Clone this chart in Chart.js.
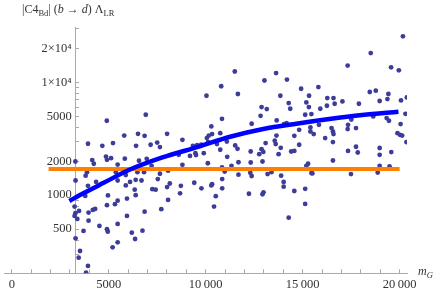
<!DOCTYPE html>
<html>
<head>
<meta charset="utf-8">
<script src="https://cdn.jsdelivr.net/npm/chart.js@4/dist/chart.umd.min.js"></script>
<style>
html, body { margin: 0; padding: 0; background: #fff; }
#wrap { position: relative; width: 436px; height: 292px; }
#ylab { position: absolute; left: 22px; top: 2px; font: 12px/14px "Liberation Serif", serif; color: #333; white-space: nowrap; }
#xlab { position: absolute; left: 418px; top: 264px; font: italic 12px/14px "Liberation Serif", serif; color: #333; white-space: nowrap; }
sub { font-size: 8.5px; line-height: 0; vertical-align: -2.5px; }
</style>
</head>
<body>
<div id="wrap">
  <canvas id="c" width="436" height="292"></canvas>
  <div id="ylab">|C4<sub>Bd</sub>| (<i>b</i> → <i>d</i>) Λ<sub>LR</sub></div>
  <div id="xlab">m<sub>G</sub></div>
</div>
<script>
// scatter: gluon mass vs |C4Bd|
const mG = [20170,18510,17320,19560,19960,11500,13630,14190,13030,10800,10040,11660,13850,12880,13150,14280,14360,12830,10840,12370,
  13660,14040,14170,10290,10750,10330,10160,10060,10120,13650,14570,8800,9340,9560,9770,10580,11090,11520,13090,13560,
  13610,11640,10750,12880,12970,13870,14410,14570,13760,12760,12320,9190,9470,9500,9900,11110,12930,12320,11690,10110,
  11330,10840,8800,10980,11690,12300,12370,13190,13390,13890,14020,10850,9410,10330,9780,10290,10850,10520,10430,12230,
  12930,12980,14020,14570,14280,15130,15130,14920,15810,15330,15190,15320,15910,16270,16590,16650,16250,17050,17900,18460,
  18770,19420,19370,18970,20070,20370,15130,15450,20300,19330,19450,18640,17510,20050,14820,15400,15400,15570,15840,16490,
  16560,16590,17340,17320,17750,19890,20020,20130,16160,16560,14820,20350,17340,17750,17840,18970,18970,19570,16560,15280,
  15190,18970,19480,15450,15500,17490,18870,3280,4900,6910,5800,6510,6850,8010,3930,4670,5220,6410,7160,7500,
  7640,4860,4910,5120,4150,4230,5830,5460,6560,6960,7210,8610,3880,3810,5370,5880,6480,6820,7640,8060,
  3290,4350,5460,6100,6390,6690,7530,8150,8720,3930,5880,6340,6390,7250,7420,8010,8680,3790,4960,5460,
  5320,4910,5940,8060,3240,3470,3280,3240,3380,3960,4180,4300,3960,6850,7710,5940,4520,5460,4910,4950,
  6740,3700,6190,6360,3290,5460,5200,3520,3450,3930,3830];
const c4 = [25600,18200,14100,13600,12800,12500,12100,10600,10400,9250,7620,7890,7620,6050,5800,6560,5840,5060,4760,4300,
  4600,4270,4360,4070,3550,3480,3380,3210,2960,3380,3360,3100,2740,2780,2800,2840,2990,2760,2900,3040,
  2840,2580,2530,2560,2420,2630,2440,2470,2310,2310,2440,2230,2360,2270,2360,2190,1990,1950,1960,1920,
  1820,1760,1860,1620,1520,1580,1480,1540,1600,1490,1310,1390,1290,1250,1150,1220,1150,980,792,1030,
  1020,1060,1190,1090,632,1140,837,8790,9100,7620,6640,6050,5840,7270,7270,6470,6210,6780,6470,8220,
  8440,7890,7120,6840,6920,7360,5170,5240,5270,4830,4570,4990,4690,4270,3800,3990,3670,3480,4210,3940,
  3670,3480,4210,3860,3940,3550,3430,3380,3210,2960,2800,2960,2470,2690,2390,2620,2280,2410,2030,1900,
  1820,1820,1800,1570,1560,1540,1590,1990,4570,5170,3380,3500,3360,3500,2860,2740,2900,2740,2800,2930,
  2670,2200,2060,2130,2050,1900,2110,1870,2020,2100,1820,2280,1600,1490,1600,1510,1600,1600,1550,1650,
  1350,1310,1350,1310,1370,1350,1390,1270,1210,1210,1220,1120,1000,1130,1120,1180,1040,986,996,895,
  832,815,933,908,792,725,692,655,616,701,740,756,595,715,751,655,534,556,499,475,
  485,482,465,409,415,382,345,320,279,236,206];

// fitted trend (blue) and reference level (orange)
const curveX = [2970,3690,4710,6070,7770,9650,11260,12970,14670,16370,18070,19940];
const curveY = [890,1040,1280,1680,2160,2700,3300,3860,4300,4730,5130,5490];
const levelX = [1900,20000];
const levelY = [1710,1710];

const xTicks = [0,1000,2000,3000,4000,5000,6000,7000,8000,9000,10000,11000,12000,13000,14000,15000,16000,17000,18000,19000,20000];
const xLabels = {0:'0', 5000:'5000', 10000:'10\u2009000', 15000:'15\u2009000', 20000:'20\u2009000'};
const yTicks = [300,400,500,600,700,800,900,1000,2000,3000,4000,5000,6000,7000,8000,9000,10000,20000,30000];
const yLabels = {500:'500', 1000:'1000', 2000:'2000', 5000:'5000', 10000:'1\u00d710\u2074', 20000:'2\u00d710\u2074'};

const pts = mG.map((x, i) => ({x: x, y: c4[i]}));
const curve = curveX.map((x, i) => ({x: x, y: curveY[i]}));
const level = levelX.map((x, i) => ({x: x, y: levelY[i]}));

const tickFont = {family: '"Liberation Serif", serif', size: 12.5};
const axisCol = '#aaa';
// the y axis sits inside the plot, so its labels need their own gap
const gap = '\u2009\u200a';

new Chart(document.getElementById('c'), {
  type: 'scatter',
  data: {
    datasets: [
      {type: 'line', data: curve, borderColor: '#0000ff', borderWidth: 4.5, pointRadius: 0, cubicInterpolationMode: 'monotone', order: 0},
      {type: 'line', data: level, borderColor: '#ff8000', borderWidth: 4, pointRadius: 0, order: 1},
      {data: pts, backgroundColor: '#3d3d99', borderWidth: 0, pointRadius: 2.4, order: 2}
    ]
  },
  options: {
    responsive: false,
    animation: false,
    devicePixelRatio: 1,
    layout: {padding: {left: 0, right: 29, top: 27, bottom: 0}},
    plugins: {legend: {display: false}, tooltip: {enabled: false}},
    scales: {
      x: {
        type: 'linear', min: -400, max: 20380,
        afterBuildTicks: s => { s.ticks = xTicks.map(v => ({value: v})); },
        afterFit: s => { s.height = 18.7; },
        grid: {drawOnChartArea: false, tickLength: -4, tickColor: axisCol},
        border: {color: axisCol, width: 1},
        ticks: {autoSkip: false, maxRotation: 0, padding: 7.9, color: '#333', font: tickFont,
          callback: v => xLabels[v] !== undefined ? xLabels[v] : ''}
      },
      y: {
        type: 'logarithmic', min: 203, max: 31000,
        position: {x: 3270},
        afterBuildTicks: s => { s.ticks = yTicks.map(v => ({value: v})); },
        grid: {drawOnChartArea: false, tickLength: -4, tickColor: axisCol},
        border: {color: axisCol, width: 1},
        ticks: {autoSkip: false, padding: 4, color: '#333', font: tickFont,
          callback: v => yLabels[v] !== undefined ? yLabels[v] + gap : ''}
      }
    }
  }
});
</script>
</body>
</html>
